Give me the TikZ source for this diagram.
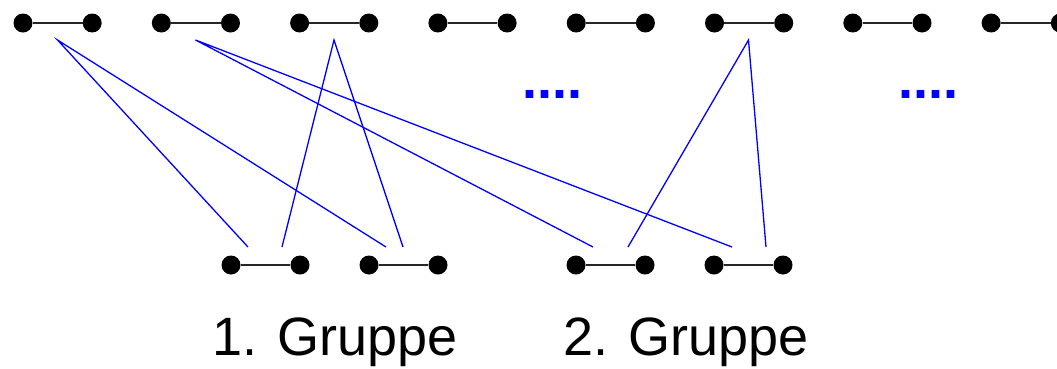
\documentclass[tikz,border=0pt]{standalone}
\usepackage{fontspec}
\setmainfont{Liberation Sans}
\begin{document}
\begin{tikzpicture}[x=1pt,y=-1pt,
  ball/.style={circle,fill=black,minimum size=19pt,inner sep=0pt},
  bar/.style={draw=black!85,line width=1.4pt},
  link/.style={draw=blue,line width=1.3pt},
  label/.style={font=\fontsize{54}{60}\selectfont,anchor=base,inner sep=0pt},
  ellip/.style={font=\fontsize{54}{60}\selectfont\bfseries,text=blue,anchor=base,inner sep=0pt}]
\useasboundingbox (0,0) rectangle (1057,368);
\clip (0,0) rectangle (1057,368);

% upper row of pairs
\foreach \k in {0,...,7}{
  \pgfmathsetmacro{\xl}{23+138.3*\k}
  \pgfmathsetmacro{\xr}{\xl+69.2}
  \node[ball] (tl\k) at (\xl,23) {};
  \node[ball] (tr\k) at (\xr,23) {};
  \draw[bar] (tl\k) -- (tr\k);
}

% lower row of pairs
\foreach \n/\xl in {1/231,2/369,3/576,4/714}{
  \pgfmathsetmacro{\xr}{\xl+69}
  \node[ball] (bl\n) at (\xl,265) {};
  \node[ball] (br\n) at (\xr,265) {};
  \draw[bar] (bl\n) -- (br\n);
}

% connector ends below the upper pairs
\coordinate (s0) at (57.5,40);
\coordinate (s1) at (195.5,40);
\coordinate (s2) at (334,40);
\coordinate (s5) at (748.5,40);

% connector ends above the lower pairs
\coordinate (g1a) at (248,247);
\coordinate (g1b) at (282,247);
\coordinate (g2a) at (386,247);
\coordinate (g2b) at (403,247);
\coordinate (g3a) at (593,247);
\coordinate (g3b) at (628,247);
\coordinate (g4a) at (732,247);
\coordinate (g4b) at (766,247);

\draw[link] (g1a) -- (s0) -- (g2a);
\draw[link] (g3a) -- (s1) -- (g4a);
\draw[link] (g1b) -- (s2) -- (g2b);
\draw[link] (g3b) -- (s5) -- (g4b);

% ellipses
\node[ellip] (d1) at (552,98) {....};
\node[ellip] (d2) at (928,98) {....};

% group labels
\node[label] (lab1) at (335,355) {1. Gruppe};
\node[label] (lab2) at (686,355) {2. Gruppe};
\end{tikzpicture}
\end{document}
